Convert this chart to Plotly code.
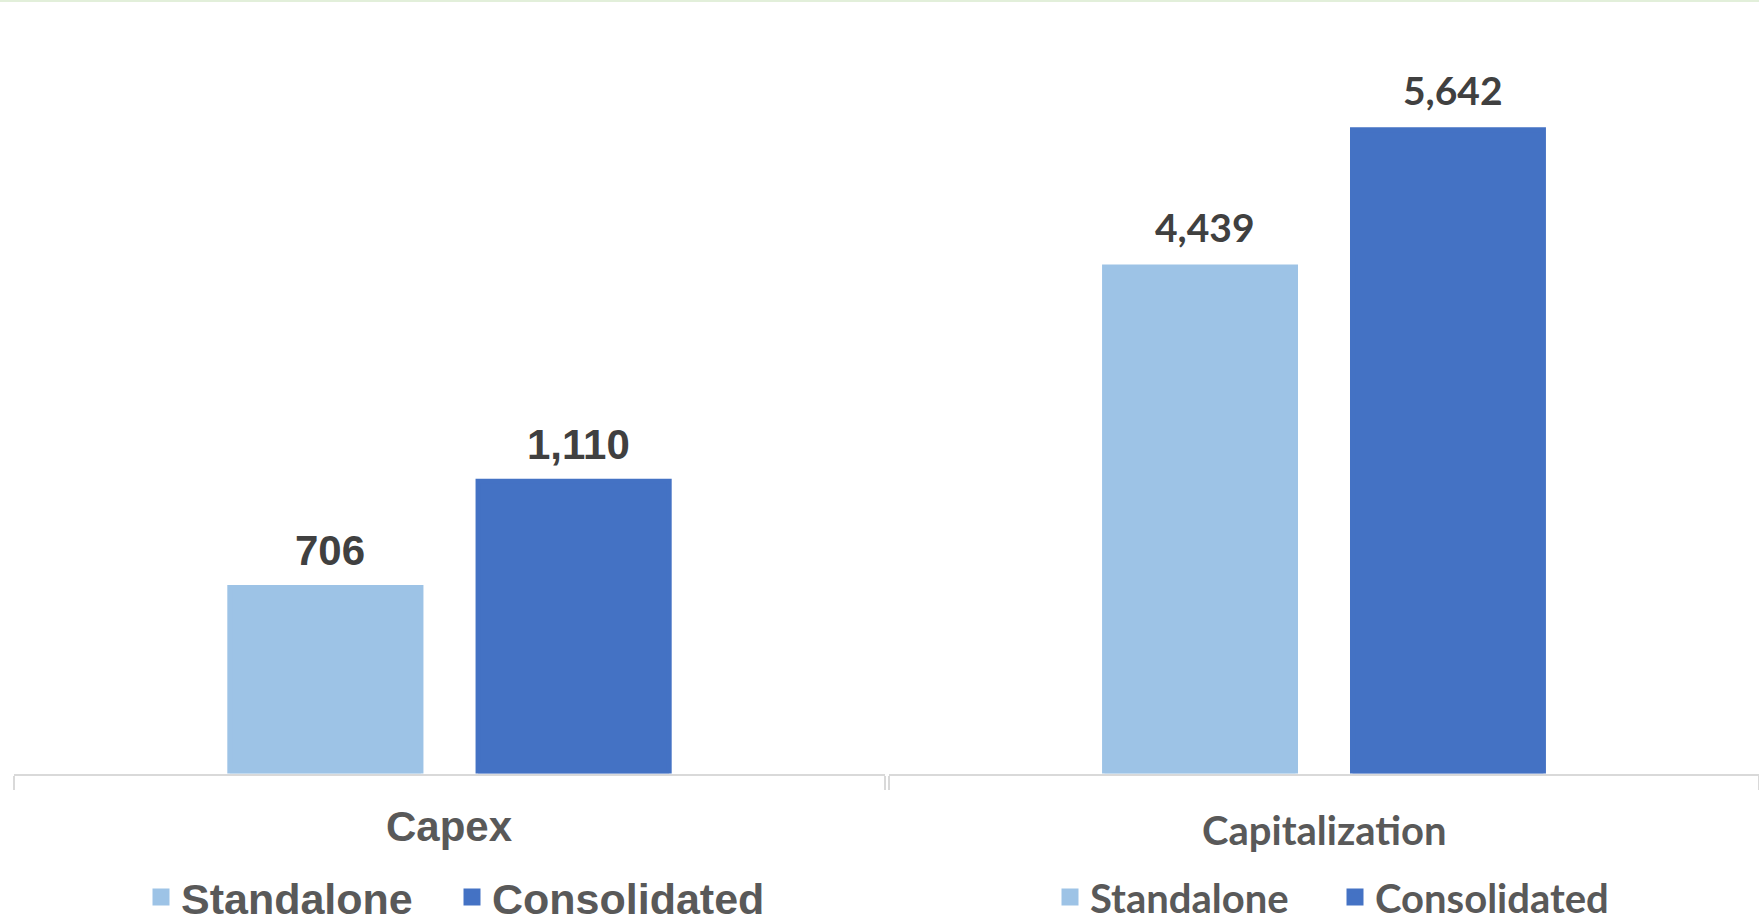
import plotly.graph_objects as go

# Values per panel
series_names = ["Standalone", "Consolidated"]
series_colors = ["#9dc3e6", "#4472c4"]

capex_category = ["Capex"]
capex_values = [706, 1110]

capitalization_category = ["Capitalization"]
capitalization_values = [4439, 5642]

BARGAP = 0.43
BARGROUPGAP = 0.23
OUTLINE = 5  # same-colour outline, also enlarges the legend swatches

LEFT_FONT = "Liberation Sans"
RIGHT_FONT = "Lato"

fig = go.Figure()

panels = [
    dict(cat=capex_category, vals=capex_values, xa="x", ya="y", legend="legend",
         font=LEFT_FONT, size=42, label_shift=37),
    dict(cat=capitalization_category, vals=capitalization_values, xa="x2", ya="y2", legend="legend2",
         font=RIGHT_FONT, size=39, label_shift=40),
]

annotations = []
n = len(series_names)
slot = (1 - BARGAP) / n
for p in panels:
    for i, (name, color, v) in enumerate(zip(series_names, series_colors, p["vals"])):
        fig.add_trace(go.Bar(
            x=p["cat"], y=[v], name=name,
            marker=dict(color=color, line=dict(width=OUTLINE, color=color)),
            xaxis=p["xa"], yaxis=p["ya"], legend=p["legend"], hoverinfo="skip",
        ))
        # value label above each bar
        annotations.append(dict(
            x=(i - (n - 1) / 2) * slot, y=v, xref=p["xa"], yref=p["ya"],
            text=f"<b>{v:,}</b>", showarrow=False, yanchor="middle",
            yshift=p["label_shift"], xshift=5,
            font=dict(family=p["font"], size=p["size"], color="#404040"),
        ))

# category names under each axis
annotations.append(dict(
    x=0.5, xref="x domain", y=1 - 826 / 922, yref="paper", text=f"<b>{capex_category[0]}</b>",
    showarrow=False, yanchor="middle", font=dict(family=LEFT_FONT, size=42, color="#595959"),
))
annotations.append(dict(
    x=0.5, xref="x2 domain", y=1 - 830 / 922, yref="paper", text=f"<b>{capitalization_category[0]}</b>",
    showarrow=False, yanchor="middle", font=dict(family=RIGHT_FONT, size=40, color="#595959"),
))

axis_common = dict(
    type="category", range=[-0.5, 0.5], showline=True, linecolor="#d9d9d9", linewidth=2,
    ticks="outside", tickson="boundaries", ticklen=14, tickwidth=2, tickcolor="#d9d9d9",
    showticklabels=False, showgrid=False, zeroline=False, fixedrange=True, layer="above traces",
)
yaxis_common = dict(visible=False, showgrid=False, zeroline=False, fixedrange=True)

y_domain = [1 - 773.5 / 922, 1 - 20 / 922]

fig.update_layout(
    width=1759, height=922,
    margin=dict(l=0, r=0, t=0, b=0, autoexpand=False),
    paper_bgcolor="white", plot_bgcolor="white",
    barmode="group", bargap=BARGAP, bargroupgap=BARGROUPGAP,
    xaxis=dict(domain=[14 / 1759, 885 / 1759], anchor="y", **axis_common),
    xaxis2=dict(domain=[889 / 1759, 1.0], anchor="y2", **axis_common),
    yaxis=dict(domain=y_domain, anchor="x", range=[0, 2861], **yaxis_common),
    yaxis2=dict(domain=y_domain, anchor="x2", range=[0, 6604], **yaxis_common),
    legend=dict(
        orientation="h", x=141 / 1759, xanchor="left", y=1 - 897 / 922, yanchor="middle",
        entrywidth=266, entrywidthmode="pixels",
        font=dict(family=LEFT_FONT, size=43, color="#595959", weight="bold"),
        bgcolor="rgba(0,0,0,0)", itemclick=False, itemdoubleclick=False,
    ),
    legend2=dict(
        orientation="h", x=1050 / 1759, xanchor="left", y=1 - 897 / 922, yanchor="middle",
        entrywidth=240, entrywidthmode="pixels",
        font=dict(family=RIGHT_FONT, size=40, color="#595959", weight="bold"),
        bgcolor="rgba(0,0,0,0)", itemclick=False, itemdoubleclick=False,
    ),
    annotations=annotations,
    shapes=[dict(type="rect", xref="paper", yref="paper", x0=0, x1=1, y0=1 - 2 / 922, y1=1,
                 fillcolor="#e2efda", line=dict(width=0), layer="above")],
    showlegend=True,
)

fig.write_html("out.html", config={"displayModeBar": False})
